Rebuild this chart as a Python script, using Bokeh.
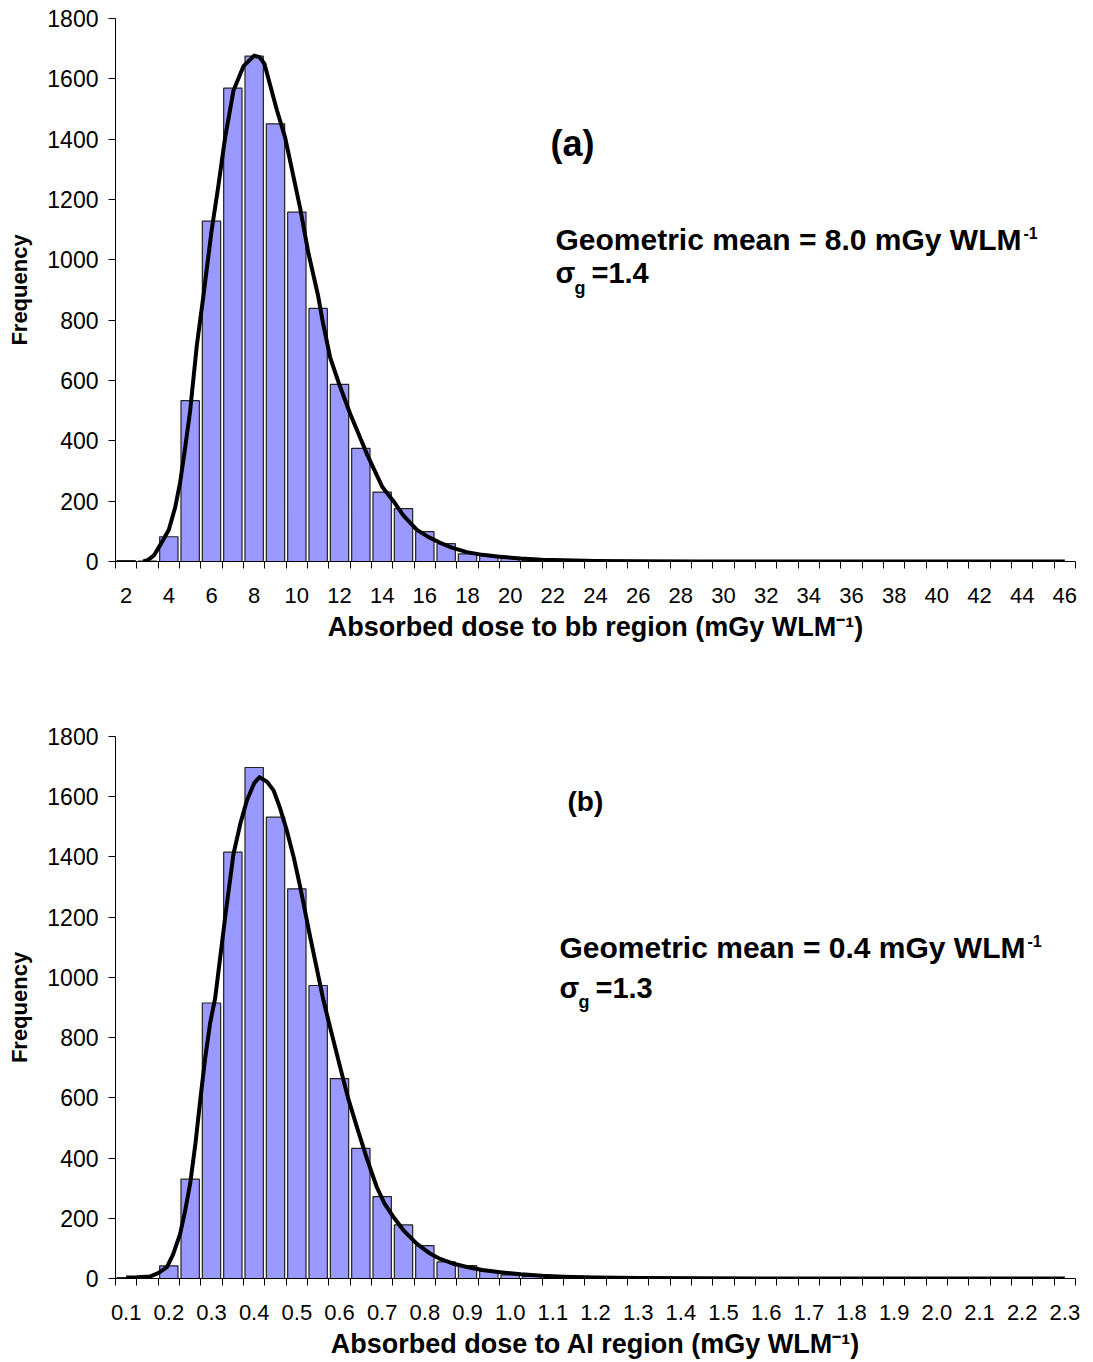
from bokeh.plotting import figure
from bokeh.models import FixedTicker, Range1d, Label
from bokeh.layouts import column
from bokeh.embed import file_html
from bokeh.resources import INLINE

FONT = "Liberation Sans"

# ---------------- data: panel (a) ----------------
top_categories = ["2", "3", "4", "5", "6", "7", "8", "9", "10", "11", "12", "13", "14", "15",
                  "16", "17", "18", "19", "20", "21", "22", "23", "24", "25", "26", "27", "28",
                  "29", "30", "31", "32", "33", "34", "35", "36", "37", "38", "39", "40", "41",
                  "42", "43", "44", "45", "46"]
top_freq = [3, 1, 82, 533, 1128, 1569, 1675, 1451, 1158, 839, 587, 375, 230, 175, 99, 59, 25,
            19, 10, 5, 3, 2, 1, 1, 1, 0, 0, 0, 0, 0, 0, 0, 0, 0, 0, 0, 0, 0, 0, 0, 0, 0, 0, 0, 0]
top_tick_labels = ["2", "4", "6", "8", "10", "12", "14", "16", "18", "20", "22", "24", "26",
                   "28", "30", "32", "34", "36", "38", "40", "42", "44", "46"]
# fitted log-normal curve (position in category index units, frequency)
top_fit_x = [0.8, 1.0, 1.3, 1.6, 2.0, 2.3, 2.53, 2.75, 3.0, 3.31, 3.62, 4.0, 4.3, 4.64, 5.03,
             5.5, 6.0, 6.25, 6.48, 7.07, 7.45, 7.8, 8.16, 8.55, 9.0, 9.2, 9.56, 10.0, 10.5,
             11.28, 12.0, 12.53, 13.0, 13.63, 14.2, 14.72, 15.3, 15.97, 16.7, 17.5, 18.5,
             19.5, 20.5, 22.0, 24.0, 27.0, 44.0]
top_fit_y = [0, 4, 20, 55, 105, 180, 262, 370, 500, 715, 880, 1095, 1235, 1406, 1561, 1642,
             1677, 1672, 1650, 1495, 1406, 1290, 1170, 1020, 880, 800, 677, 585, 490, 357,
             248, 200, 152, 105, 80, 62, 45, 31, 22, 16, 10, 6, 4, 2, 1, 0, 0]

# ---------------- data: panel (b) ----------------
bottom_categories = ["0.10", "0.15", "0.20", "0.25", "0.30", "0.35", "0.40", "0.45", "0.50",
                     "0.55", "0.60", "0.65", "0.70", "0.75", "0.80", "0.85", "0.90", "0.95",
                     "1.00", "1.05", "1.10", "1.15", "1.20", "1.25", "1.30", "1.35", "1.40",
                     "1.45", "1.50", "1.55", "1.60", "1.65", "1.70", "1.75", "1.80", "1.85",
                     "1.90", "1.95", "2.00", "2.05", "2.10", "2.15", "2.20", "2.25", "2.30"]
bottom_freq = [3, 0, 42, 330, 915, 1416, 1697, 1532, 1294, 973, 664, 432, 272, 178, 109, 55, 43,
               24, 12, 7, 4, 2, 1, 1, 0, 0, 0, 0, 0, 0, 0, 0, 0, 0, 0, 0, 0, 0, 0, 0, 0, 0, 0, 0, 0]
bottom_tick_labels = ["0.1", "0.2", "0.3", "0.4", "0.5", "0.6", "0.7", "0.8", "0.9", "1.0",
                      "1.1", "1.2", "1.3", "1.4", "1.5", "1.6", "1.7", "1.8", "1.9", "2.0",
                      "2.1", "2.2", "2.3"]
bottom_fit_x = [0.0, 0.5, 1.13, 1.5, 1.91, 2.2, 2.53, 2.75, 3.0, 3.25, 3.47, 3.7, 3.94, 4.17,
                4.64, 5.03, 5.35, 5.66, 6.0, 6.25, 6.6, 6.91, 7.2, 7.53, 7.85, 8.16, 8.63, 9.25,
                9.48, 10.03, 10.4, 10.82, 11.3, 11.75, 12.1, 12.53, 13.0, 13.63, 14.2, 14.72,
                15.3, 15.97, 16.7, 17.53, 18.5, 19.5, 20.5, 22.0, 24.0, 27.0, 30.0, 44.0]
bottom_fit_y = [3, 4, 7, 18, 38, 80, 148, 220, 315, 450, 591, 730, 850, 930, 1200, 1410, 1510,
                1588, 1645, 1665, 1650, 1621, 1565, 1488, 1400, 1300, 1133, 923, 857, 702, 600,
                502, 395, 303, 250, 204, 160, 115, 85, 65, 50, 38, 28, 21, 14, 9, 6, 3, 2, 1, 0, 0]

y_ticks = [0, 200, 400, 600, 800, 1000, 1200, 1400, 1600, 1800]

BAR_COLOR = "#9999FF"

# frame geometry (page pixels)
FRAME_L, FRAME_R = 115, 1075
T1, B1 = 18, 561
T2, B2 = 736, 1278
PAGE_W, PAGE_H = 1093, 1362
H1 = 690


def make_panel(categories, freq, tick_labels, fit_x, fit_y, title, height, border_top,
               border_bottom):
    n = len(categories)
    p = figure(width=PAGE_W, height=height, x_range=Range1d(-0.5, n - 0.5),
               y_range=Range1d(0, 1800), output_backend="svg", toolbar_location=None,
               min_border_left=FRAME_L, min_border_right=PAGE_W - FRAME_R,
               min_border_top=border_top, min_border_bottom=border_bottom,
               background_fill_color="white", border_fill_color="white",
               outline_line_color=None)
    p.grid.visible = False
    idx = list(range(n))
    p.vbar(x=idx, top=freq, width=0.86, bottom=0, fill_color=BAR_COLOR,
           line_color="#222222", line_width=1.2)
    p.line(fit_x, fit_y, line_color="black", line_width=4, line_join="round")

    xa = p.xaxis[0]
    xa.ticker = FixedTicker(ticks=list(range(0, n, 2)),
                            minor_ticks=[i - 0.5 for i in range(n + 1)])
    xa.major_label_overrides = {i * 2: lab for i, lab in enumerate(tick_labels)}
    xa.major_tick_line_color = None
    xa.major_tick_out = 7
    xa.major_tick_in = 0
    xa.minor_tick_line_color = "black"
    xa.minor_tick_out = 7
    xa.minor_tick_in = 0
    xa.axis_line_color = "black"
    xa.major_label_text_font = FONT
    xa.major_label_text_font_size = "22px"
    xa.major_label_text_color = "black"
    xa.major_label_standoff = 19
    xa.axis_label = title
    xa.axis_label_text_font = FONT
    xa.axis_label_text_font_size = "27px"
    xa.axis_label_text_font_style = "bold"
    xa.axis_label_text_color = "black"
    xa.axis_label_standoff = 6

    ya = p.yaxis[0]
    ya.ticker = FixedTicker(ticks=y_ticks)
    ya.minor_tick_line_color = None
    ya.major_tick_line_color = "black"
    ya.major_tick_out = 7
    ya.major_tick_in = 0
    ya.axis_line_color = "black"
    ya.major_label_text_font = FONT
    ya.major_label_text_font_size = "23px"
    ya.major_label_text_color = "black"
    ya.major_label_standoff = 10
    ya.axis_label = "Frequency"
    ya.axis_label_text_font = FONT
    ya.axis_label_text_font_size = "22px"
    ya.axis_label_text_font_style = "bold"
    ya.axis_label_text_color = "black"
    ya.axis_label_standoff = 12
    return p


def px_to_x(px, n=45):
    # page pixel -> category index
    return -0.5 + (px - FRAME_L) / float(FRAME_R - FRAME_L) * n


def py_to_y(py, top, bottom):
    return (bottom - py) / float(bottom - top) * 1800.0


def add_text(p, text, px, py, size_px, top, bottom):
    # py is the intended baseline; compensate for how the label baseline is rendered
    py_eff = py - 0.34 * size_px
    p.add_layout(Label(x=px_to_x(px), y=py_to_y(py_eff, top, bottom), text=text,
                       text_font=FONT, text_font_size="%dpx" % size_px,
                       text_font_style="bold", text_color="black", text_align="left",
                       text_baseline="alphabetic"))


p1 = make_panel(top_categories, top_freq, top_tick_labels, top_fit_x, top_fit_y,
                "Absorbed dose to bb region (mGy WLM\u207b\u00b9)", H1, T1, H1 - B1)
p2 = make_panel(bottom_categories, bottom_freq, bottom_tick_labels, bottom_fit_x, bottom_fit_y,
                "Absorbed dose to AI region (mGy WLM\u207b\u00b9)", PAGE_H - H1, T2 - H1,
                PAGE_H - B2)

# panel (a) annotations
add_text(p1, "(a)", 550, 155, 36, T1, B1)
add_text(p1, "Geometric mean = 8.0 mGy WLM", 555, 249.5, 30, T1, B1)
add_text(p1, "-1", 1023, 238, 16, T1, B1)
add_text(p1, "\u03c3", 555, 282.5, 29, T1, B1)
add_text(p1, "g", 574, 294, 18, T1, B1)
add_text(p1, "=1.4", 591, 282.5, 29, T1, B1)

# panel (b) annotations
add_text(p2, "(b)", 567, 811, 28, T2, B2)
add_text(p2, "Geometric mean = 0.4 mGy WLM", 559, 957.5, 30, T2, B2)
add_text(p2, "-1", 1027, 946, 16, T2, B2)
add_text(p2, "\u03c3", 559, 997, 29, T2, B2)
add_text(p2, "g", 578, 1008, 18, T2, B2)
add_text(p2, "=1.3", 595, 997, 29, T2, B2)

layout = column(p1, p2, spacing=0)
open("out.html", "w").write(file_html(layout, INLINE))
